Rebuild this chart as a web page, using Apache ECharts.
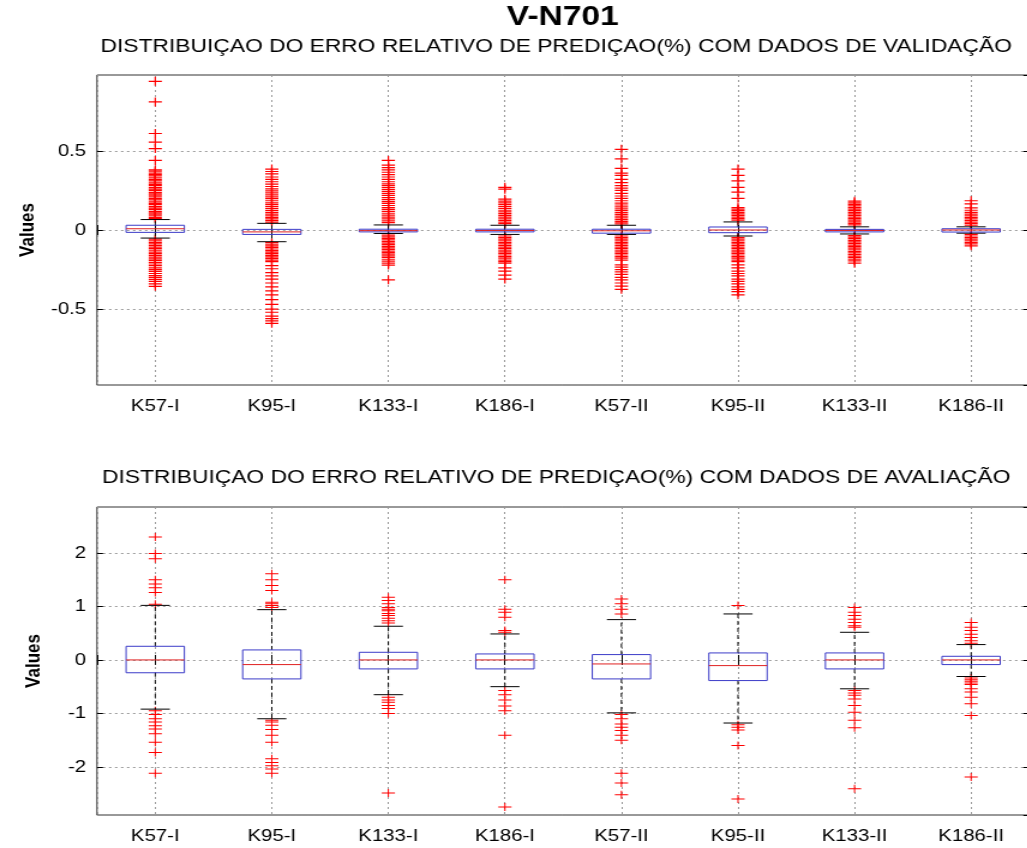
<!DOCTYPE html>
<html>
<head>
<meta charset="utf-8">
<script src="https://cdn.jsdelivr.net/npm/echarts@6/dist/echarts.min.js"></script>
<style>
  html, body { margin: 0; padding: 0; background: #fff; overflow: hidden; }
  #chart { width: 856px; height: 848px; transform: scaleX(1.2); transform-origin: 0 0; }
</style>
</head>
<body>
<div id="chart"></div>
<script>
// ---------- DATA ----------
const mainTitle = 'V-N701';
const titleValidation = 'DISTRIBUIÇAO DO ERRO RELATIVO DE PREDIÇAO(%) COM DADOS DE VALIDAÇÃO';
const titleEvaluation = 'DISTRIBUIÇAO DO ERRO RELATIVO DE PREDIÇAO(%) COM DADOS DE AVALIAÇÃO';
const yAxisName = 'Values';
const categories = ['K57-I', 'K95-I', 'K133-I', 'K186-I', 'K57-II', 'K95-II', 'K133-II', 'K186-II'];

// Validation (top) box statistics
const valLowerWhisker = [-0.051, -0.074, -0.022, -0.028, -0.028, -0.038, -0.025, -0.020];
const valQ1           = [-0.015, -0.028, -0.012, -0.012, -0.020, -0.017, -0.012, -0.013];
const valMedian       = [ 0.008, -0.012, -0.004, -0.003, -0.005,  0.000, -0.003,  0.000];
const valQ3           = [ 0.030,  0.004,  0.005,  0.005,  0.005,  0.019,  0.004,  0.008];
const valUpperWhisker = [ 0.066,  0.042,  0.032,  0.030,  0.030,  0.051,  0.020,  0.020];
const valOutliers = [
  [0.94, 0.81, 0.61, 0.555, 0.515, 0.44, 0.38, 0.372, 0.36, 0.35, 0.342, 0.33, 0.318, 0.31, 0.298, 0.288, 0.28, 0.268, 0.258, 0.25, 0.238, 0.228, 0.22, 0.21, 0.198, 0.19, 0.178, 0.168, 0.16, 0.148, 0.138, 0.13, 0.118, 0.108, 0.1, 0.09, 0.08, 0.072,
   -0.058, -0.068, -0.078, -0.088, -0.098, -0.108, -0.118, -0.128, -0.14, -0.15, -0.16, -0.172, -0.182, -0.192, -0.205, -0.215, -0.225, -0.24, -0.25, -0.262, -0.275, -0.288, -0.3, -0.312, -0.325, -0.34, -0.356],
  [0.385, 0.37, 0.355, 0.335, 0.32, 0.305, 0.29, 0.275, 0.26, 0.248, 0.235, 0.222, 0.21, 0.198, 0.185, 0.172, 0.16, 0.148, 0.136, 0.124, 0.112, 0.1, 0.09, 0.08, 0.07, 0.06, 0.05,
   -0.08, -0.09, -0.1, -0.11, -0.12, -0.13, -0.14, -0.15, -0.16, -0.17, -0.18, -0.19, -0.2, -0.225, -0.245, -0.27, -0.29, -0.31, -0.335, -0.36, -0.385, -0.41, -0.44, -0.47, -0.5, -0.52, -0.545, -0.56, -0.575, -0.59],
  [0.44, 0.41, 0.395, 0.38, 0.365, 0.35, 0.335, 0.32, 0.305, 0.292, 0.28, 0.268, 0.255, 0.242, 0.23, 0.218, 0.205, 0.192, 0.18, 0.168, 0.155, 0.142, 0.13, 0.118, 0.106, 0.094, 0.082, 0.07, 0.058, 0.046,
   -0.033, -0.043, -0.053, -0.063, -0.073, -0.083, -0.093, -0.103, -0.113, -0.123, -0.133, -0.143, -0.153, -0.163, -0.173, -0.185, -0.197, -0.21, -0.222, -0.315],
  [0.27, 0.258, 0.195, 0.183, 0.171, 0.16, 0.148, 0.136, 0.125, 0.114, 0.103, 0.092, 0.081, 0.07, 0.06, 0.05, 0.04,
   -0.038, -0.048, -0.058, -0.068, -0.078, -0.088, -0.098, -0.108, -0.118, -0.128, -0.138, -0.148, -0.158, -0.168, -0.178, -0.19, -0.2, -0.21, -0.24, -0.26, -0.285, -0.31],
  [0.51, 0.45, 0.39, 0.36, 0.345, 0.32, 0.3, 0.28, 0.265, 0.25, 0.232, 0.215, 0.2, 0.185, 0.17, 0.158, 0.146, 0.134, 0.122, 0.11, 0.099, 0.088, 0.077, 0.066, 0.055, 0.045, 0.038,
   -0.038, -0.048, -0.058, -0.068, -0.078, -0.088, -0.098, -0.108, -0.118, -0.128, -0.138, -0.148, -0.158, -0.168, -0.178, -0.19, -0.22, -0.235, -0.25, -0.265, -0.28, -0.3, -0.315, -0.335, -0.355, -0.375],
  [0.385, 0.345, 0.31, 0.27, 0.24, 0.2, 0.142, 0.132, 0.122, 0.112, 0.102, 0.092, 0.082, 0.072, 0.062,
   -0.048, -0.058, -0.068, -0.078, -0.088, -0.098, -0.108, -0.118, -0.128, -0.138, -0.148, -0.158, -0.168, -0.178, -0.19, -0.2, -0.22, -0.24, -0.26, -0.275, -0.29, -0.31, -0.325, -0.34, -0.36, -0.375, -0.39, -0.41],
  [0.182, 0.172, 0.162, 0.152, 0.142, 0.132, 0.122, 0.112, 0.102, 0.092, 0.082, 0.072, 0.062, 0.052, 0.042, 0.032,
   -0.035, -0.045, -0.055, -0.065, -0.075, -0.085, -0.095, -0.105, -0.115, -0.125, -0.135, -0.145, -0.155, -0.165, -0.175, -0.185, -0.195, -0.21],
  [0.185, 0.165, 0.14, 0.125, 0.112, 0.1, 0.09, 0.08, 0.07, 0.06, 0.05, 0.04, 0.03,
   -0.028, -0.038, -0.048, -0.058, -0.068, -0.078, -0.088, -0.1]
];

// Evaluation (bottom) box statistics
const evaLowerWhisker = [-0.92, -1.10, -0.65, -0.50, -0.99, -1.18, -0.54, -0.31];
const evaQ1           = [-0.24, -0.355, -0.168, -0.168, -0.355, -0.386, -0.168, -0.087];
const evaMedian       = [ 0.00, -0.087, 0.00, 0.00, -0.075, -0.106, 0.00, 0.00];
const evaQ3           = [ 0.255, 0.187, 0.143, 0.112, 0.10, 0.131, 0.131, 0.068];
const evaUpperWhisker = [ 1.02, 0.94, 0.63, 0.486, 0.754, 0.86, 0.517, 0.287];
const evaOutliers = [
  [2.30, 1.99, 1.89, 1.50, 1.42, 1.35, 1.26, 1.04, -0.95, -1.02, -1.10, -1.16, -1.23, -1.29, -1.38, -1.54, -1.73, -2.12],
  [1.61, 1.50, 1.39, 1.30, 1.08, 1.05, 1.02, 0.98, -1.13, -1.16, -1.22, -1.30, -1.41, -1.54, -1.85, -1.92, -1.98, -2.04, -2.12],
  [1.17, 1.11, 1.05, 0.98, 0.95, 0.92, 0.87, 0.83, 0.78, 0.735, 0.69, -0.70, -0.75, -0.79, -0.85, -0.91, -1.00, -2.49],
  [1.50, 0.95, 0.89, 0.80, 0.55, 0.52, -0.57, -0.65, -0.75, -0.86, -0.95, -1.41, -2.75],
  [1.14, 1.05, 0.95, 0.86, -1.02, -1.10, -1.20, -1.26, -1.32, -1.41, -1.50, -2.12, -2.30, -2.52],
  [1.02, -1.21, -1.26, -1.31, -1.60, -2.60],
  [0.98, 0.89, 0.83, 0.76, 0.70, 0.64, 0.61, -0.57, -0.62, -0.66, -0.73, -0.85, -0.98, -1.13, -1.27, -2.41],
  [0.70, 0.61, 0.55, 0.48, 0.42, 0.36, 0.31, -0.34, -0.37, -0.40, -0.43, -0.46, -0.54, -0.60, -0.70, -0.82, -1.04, -2.19]
];

const valRange = [-0.98, 0.98];
const evaRange = [-2.9, 2.86];

// ---------- BUILD ----------
const FONT = '"Liberation Sans", Arial, sans-serif';
const boxColor = '#3b3bc8';
const medianColor = '#e02020';
const outlierColor = '#ff0000';
const frameColor = '#333333';
const gridColor = '#9a9a9a';

function boxRows(lo, q1, med, q3, hi) {
  return categories.map((c, i) => [i + 1, lo[i], q1[i], med[i], q3[i], hi[i]]);
}
function outlierRows(list) {
  const rows = [];
  list.forEach((arr, i) => arr.forEach(v => rows.push([i + 1, v])));
  return rows;
}

function renderBox(params, api) {
  const x = api.value(0);
  const pLo = api.coord([x, api.value(1)]);
  const pQ1 = api.coord([x, api.value(2)]);
  const pMed = api.coord([x, api.value(3)]);
  const pQ3 = api.coord([x, api.value(4)]);
  const pHi = api.coord([x, api.value(5)]);
  const half = api.size([0.5, 0])[0] / 2;
  const capHalf = api.size([0.25, 0])[0] / 2;
  const cx = pMed[0];
  const dash = { stroke: '#000', lineWidth: 1, lineDash: [4, 3] };
  const solid = { stroke: '#000', lineWidth: 1 };
  return {
    type: 'group',
    children: [
      { type: 'line', shape: { x1: cx, y1: pQ3[1], x2: cx, y2: pHi[1] }, style: dash },
      { type: 'line', shape: { x1: cx, y1: pQ1[1], x2: cx, y2: pLo[1] }, style: dash },
      { type: 'line', shape: { x1: cx - capHalf, y1: pHi[1], x2: cx + capHalf, y2: pHi[1] }, style: solid },
      { type: 'line', shape: { x1: cx - capHalf, y1: pLo[1], x2: cx + capHalf, y2: pLo[1] }, style: solid },
      { type: 'rect', shape: { x: cx - half, y: pQ3[1], width: 2 * half, height: Math.max(pQ1[1] - pQ3[1], 1) },
        style: { fill: 'none', stroke: boxColor, lineWidth: 1 } },
      { type: 'line', shape: { x1: cx - half, y1: pMed[1], x2: cx + half, y2: pMed[1] },
        style: { stroke: medianColor, lineWidth: 1 } }
    ]
  };
}

const gridLeft = 80.8;
const gridWidth = 777;
const grids = [
  { left: gridLeft, top: 75, width: gridWidth, height: 310, show: true, borderColor: frameColor, borderWidth: 1, backgroundColor: '#fff', outerBoundsMode: 'none', containLabel: false },
  { left: gridLeft, top: 507, width: gridWidth, height: 308, show: true, borderColor: frameColor, borderWidth: 1, backgroundColor: '#fff', outerBoundsMode: 'none', containLabel: false }
];

function xAxes(gi) {
  return [
    {
      gridIndex: gi, type: 'value', min: 0.5, max: 8.5, splitNumber: 8, position: 'bottom',
      axisLine: { show: false },
      axisTick: { show: true, inside: true, length: 5, lineStyle: { color: '#000' } },
      axisLabel: {
        margin: 13, color: '#000', fontSize: 17, fontFamily: FONT,
        formatter: v => Number.isInteger(v) && v >= 1 && v <= categories.length ? categories[v - 1] : ''
      },
      splitLine: { show: true, lineStyle: { color: gridColor, type: [2, 3], width: 1 } }
    },
    {
      gridIndex: gi, type: 'value', min: 0.5, max: 8.5, splitNumber: 8, position: 'top',
      axisLine: { show: false },
      axisTick: { show: true, inside: true, length: 5, lineStyle: { color: '#000' } },
      axisLabel: { show: false }, splitLine: { show: false }
    }
  ];
}
function yAxes(gi, range, split) {
  return [
    {
      gridIndex: gi, type: 'value', min: range[0], max: range[1], splitNumber: split, position: 'left',
      name: yAxisName, nameLocation: 'middle', nameGap: 44,
      nameTextStyle: { fontSize: 17, fontWeight: 'bold', color: '#000', fontFamily: FONT },
      axisLine: { show: false },
      axisTick: { show: true, inside: true, length: 5, lineStyle: { color: '#000' } },
      axisLabel: { showMinLabel: false, showMaxLabel: false, margin: 9, color: '#000', fontSize: 17, fontFamily: FONT },
      splitLine: { show: true, lineStyle: { color: gridColor, type: [2, 3], width: 1 } }
    },
    {
      gridIndex: gi, type: 'value', min: range[0], max: range[1], splitNumber: split, position: 'right',
      axisLine: { show: false },
      axisTick: { show: true, inside: true, length: 5, lineStyle: { color: '#000' } },
      axisLabel: { show: false }, splitLine: { show: false }
    }
  ];
}

const plusTop = 'path://M0,3.9H11V5.1H0Z M4.9,0H6.1V9H4.9Z';
const plusBottom = 'path://M0,3.5H11V4.5H0Z M5,0H6V8H5Z';

function panelSeries(xi, yi, lo, q1, med, q3, hi, outs, sym, symSize) {
  return [
    {
      type: 'scatter', xAxisIndex: xi, yAxisIndex: yi, z: 3,
      symbol: sym, symbolSize: symSize,
      itemStyle: { color: outlierColor, opacity: 1 },
      data: outlierRows(outs), silent: true
    },
    {
      type: 'custom', xAxisIndex: xi, yAxisIndex: yi, z: 4,
      renderItem: renderBox, data: boxRows(lo, q1, med, q3, hi), silent: true
    }
  ];
}

const option = {
  animation: false,
  backgroundColor: '#fff',
  grid: grids,
  xAxis: [...xAxes(0), ...xAxes(1)],
  yAxis: [...yAxes(0, valRange, 4), ...yAxes(1, evaRange, 6)],
  graphic: [
    { type: 'text', x: 469, y: 17, z: 10,
      style: { text: mainTitle, font: 'bold 28px ' + FONT, fill: '#000', textAlign: 'center', textVerticalAlign: 'middle' } },
    { type: 'text', x: 463.5, y: 47, z: 10,
      style: { text: titleValidation, font: '19px ' + FONT, fill: '#000', textAlign: 'center', textVerticalAlign: 'middle' } },
    { type: 'text', x: 463.5, y: 478, z: 10,
      style: { text: titleEvaluation, font: '19px ' + FONT, fill: '#000', textAlign: 'center', textVerticalAlign: 'middle' } }
  ],
  series: [
    ...panelSeries(0, 0, valLowerWhisker, valQ1, valMedian, valQ3, valUpperWhisker, valOutliers, plusTop, [11, 9]),
    ...panelSeries(2, 2, evaLowerWhisker, evaQ1, evaMedian, evaQ3, evaUpperWhisker, evaOutliers, plusBottom, [11, 8])
  ]
};

const chart = echarts.init(document.getElementById('chart'), null, { renderer: 'canvas' });
chart.setOption(option);
</script>
</body>
</html>
